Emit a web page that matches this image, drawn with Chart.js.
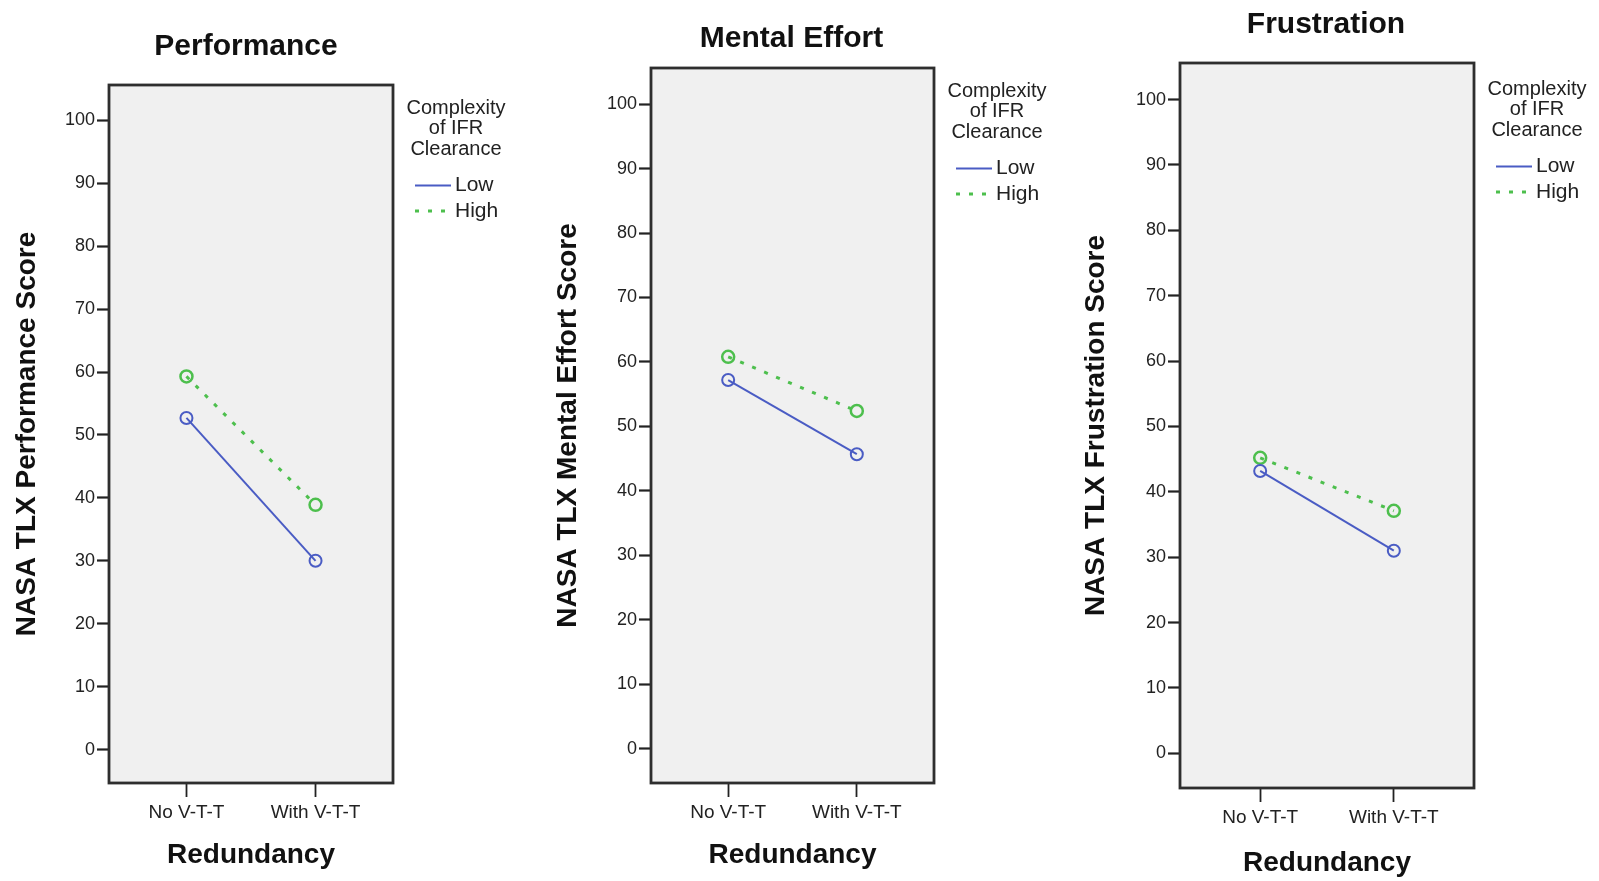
<!DOCTYPE html>
<html>
<head>
<meta charset="utf-8">
<script src="https://cdn.jsdelivr.net/npm/chart.js@4.4.1/dist/chart.umd.min.js"></script>
<style>
html, body { margin: 0; padding: 0; background: #fff; }
#wrap { position: relative; width: 1599px; height: 881px; overflow: hidden; }
canvas { position: absolute; top: 0; }
</style>
</head>
<body>
<div id="wrap">
  <canvas id="perf" width="530" height="881" style="left:0px"></canvas>
  <canvas id="mental" width="530" height="881" style="left:530px"></canvas>
  <canvas id="frust" width="539" height="881" style="left:1060px"></canvas>
</div>
<script>
// data
const categories = ['No V-T-T', 'With V-T-T'];
const yTicks = [0, 10, 20, 30, 40, 50, 60, 70, 80, 90, 100];
const seriesNames = ['Low', 'High'];
const legendTitle = ['Complexity', 'of IFR', 'Clearance'];

const perfLow = [52.7, 30.0];
const perfHigh = [59.3, 38.9];
const mentalLow = [57.2, 45.7];
const mentalHigh = [60.8, 52.4];
const frustLow = [43.2, 31.0];
const frustHigh = [45.2, 37.1];

const lowColor = '#4a5cc4';
const highColor = '#4dbf4d';
const textColor = '#111';
const FONT = "Arial, 'Liberation Sans', sans-serif";

// grey box, frame, title and legend in SPSS style
const spssBox = {
    id: 'spssBox',
    beforeDraw(chart) {
        const {ctx, chartArea: a} = chart;
        ctx.save();
        ctx.fillStyle = '#f0f0f0';
        ctx.fillRect(a.left, a.top, a.right - a.left, a.bottom - a.top);
        ctx.restore();
    },
    afterDraw(chart, args, opts) {
        const {ctx, chartArea: a} = chart;
        ctx.save();
        // frame
        ctx.strokeStyle = '#2e2e2e';
        ctx.lineWidth = 2.8;
        ctx.strokeRect(a.left, a.top, a.right - a.left, a.bottom - a.top);

        // title
        ctx.fillStyle = textColor;
        ctx.font = 'bold 30px ' + FONT;
        ctx.textAlign = 'center';
        ctx.textBaseline = 'middle';
        ctx.fillText(opts.title, (a.left + a.right) / 2 - opts.titleShift, opts.titleY);

        // legend
        const cx = a.right + 63;
        let y = a.top + opts.legendTop;
        ctx.font = '20px ' + FONT;
        ctx.fillStyle = '#222';
        legendTitle.forEach(t => {
            ctx.fillText(t, cx, y);
            y += 20.5;
        });
        y += 16;
        ctx.font = '21px ' + FONT;
        ctx.textAlign = 'left';
        chart.data.datasets.forEach(ds => {
            ctx.beginPath();
            ctx.strokeStyle = ds.borderColor;
            ctx.lineWidth = ds.borderWidth;
            ctx.setLineDash(ds.borderDash || []);
            ctx.moveTo(a.right + 22, y);
            ctx.lineTo(a.right + 58, y);
            ctx.stroke();
            ctx.setLineDash([]);
            ctx.fillStyle = '#222';
            ctx.fillText(ds.label, a.right + 62, y);
            y += 25.5;
        });
        ctx.restore();
    }
};

function makeChart(id, title, yTitle, low, high, cfg) {
    const ctx = document.getElementById(id).getContext('2d');
    return new Chart(ctx, {
        type: 'line',
        data: {
            datasets: [{
                label: seriesNames[0],
                data: low.map((v, i) => ({x: i, y: v})),
                borderColor: lowColor,
                borderWidth: 2,
                pointRadius: 6,
                pointBorderWidth: 2,
                pointBackgroundColor: 'rgba(0,0,0,0)',
                pointBorderColor: lowColor
            }, {
                label: seriesNames[1],
                data: high.map((v, i) => ({x: i, y: v})),
                borderColor: highColor,
                borderWidth: 3,
                borderDash: [4, 9],
                pointRadius: 6,
                pointBorderWidth: 2.5,
                pointBackgroundColor: 'rgba(0,0,0,0)',
                pointBorderColor: highColor
            }]
        },
        options: {
            responsive: false,
            maintainAspectRatio: false,
            devicePixelRatio: 1,
            animation: false,
            layout: {
                padding: {top: cfg.top, right: cfg.right, left: 0, bottom: 0}
            },
            plugins: {
                legend: {display: false},
                title: {display: false},
                tooltip: {enabled: false},
                spssBox: {title: title, titleY: cfg.titleY, titleShift: cfg.titleShift, legendTop: cfg.legendTop}
            },
            scales: {
                x: {
                    type: 'linear',
                    min: -0.6,
                    max: 1.6,
                    afterBuildTicks: s => { s.ticks = categories.map((_, i) => ({value: i})); },
                    afterFit: s => { s.height = cfg.xHeight; },
                    ticks: {
                        callback: v => categories[v],
                        color: '#222',
                        font: {family: FONT, size: 19},
                        padding: 4,
                        maxRotation: 0
                    },
                    grid: {drawOnChartArea: false, tickLength: 14, color: '#222', tickWidth: 1.8},
                    border: {display: false},
                    title: {
                        display: true,
                        text: 'Redundancy',
                        color: textColor,
                        font: {family: FONT, size: 28, weight: 'bold'},
                        padding: {top: 0, bottom: cfg.xTitlePad}
                    }
                },
                y: {
                    min: -5.3,
                    max: 105.6,
                    afterBuildTicks: s => { s.ticks = yTicks.map(v => ({value: v})); },
                    afterFit: s => { s.width = cfg.yWidth; },
                    ticks: {
                        color: '#222',
                        font: {family: FONT, size: 18},
                        padding: 2
                    },
                    grid: {drawOnChartArea: false, tickLength: 12, color: '#222', tickWidth: 2.2},
                    border: {display: false},
                    title: {
                        display: true,
                        text: yTitle,
                        color: textColor,
                        font: {family: FONT, size: 28, weight: 'bold'},
                        padding: {top: cfg.yTitlePad, bottom: 0}
                    }
                }
            }
        },
        plugins: [spssBox]
    });
}

makeChart('perf', 'Performance', 'NASA TLX Performance Score', perfLow, perfHigh,
    {top: 85, right: 137, yWidth: 109, xHeight: 98, yTitlePad: 10.7, xTitlePad: 9.2, titleY: 47, titleShift: 5, legendTop: 23});
makeChart('mental', 'Mental Effort', 'NASA TLX Mental Effort Score', mentalLow, mentalHigh,
    {top: 68, right: 126, yWidth: 121, xHeight: 98, yTitlePad: 21.2, xTitlePad: 9.2, titleY: 39, titleShift: 1, legendTop: 23});
makeChart('frust', 'Frustration', 'NASA TLX Frustration Score', frustLow, frustHigh,
    {top: 63, right: 125, yWidth: 120, xHeight: 93, yTitlePad: 19.2, xTitlePad: 1.2, titleY: 24.5, titleShift: 1, legendTop: 26});
</script>
</body>
</html>
